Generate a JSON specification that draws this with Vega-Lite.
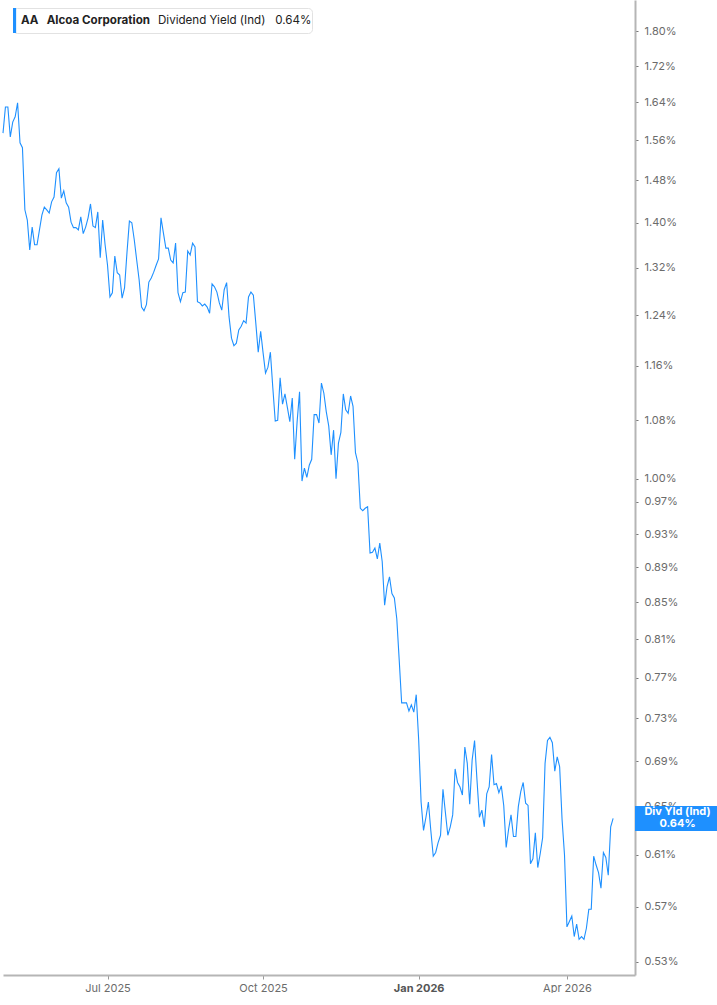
{
"$schema": "https://vega.github.io/schema/vega-lite/v6.json",
"width": 632,
"height": 975,
"padding": 0,
"background": "white",
"config": {"view": {"stroke": null}, "font": "Inter", "axis": {"grid": false}},
"datasets": {
"yield": [
{"d":"2025-04-29","v":1.575},{"d":"2025-04-30","v":1.630},
{"d":"2025-05-01","v":1.630},{"d":"2025-05-02","v":1.567},{"d":"2025-05-05","v":1.598},{"d":"2025-05-06","v":1.609},{"d":"2025-05-07","v":1.639},{"d":"2025-05-08","v":1.555},{"d":"2025-05-09","v":1.545},{"d":"2025-05-12","v":1.424},{"d":"2025-05-13","v":1.405},{"d":"2025-05-14","v":1.351},{"d":"2025-05-15","v":1.392},{"d":"2025-05-16","v":1.360},{"d":"2025-05-19","v":1.360},{"d":"2025-05-20","v":1.387},{"d":"2025-05-21","v":1.414},{"d":"2025-05-22","v":1.429},{"d":"2025-05-23","v":1.424},{"d":"2025-05-27","v":1.418},{"d":"2025-05-28","v":1.439},{"d":"2025-05-29","v":1.448},{"d":"2025-05-30","v":1.495},
{"d":"2025-06-02","v":1.503},{"d":"2025-06-03","v":1.446},{"d":"2025-06-04","v":1.460},{"d":"2025-06-05","v":1.437},{"d":"2025-06-06","v":1.429},{"d":"2025-06-09","v":1.401},{"d":"2025-06-10","v":1.391},{"d":"2025-06-11","v":1.391},{"d":"2025-06-12","v":1.387},{"d":"2025-06-13","v":1.411},{"d":"2025-06-16","v":1.380},{"d":"2025-06-17","v":1.392},{"d":"2025-06-18","v":1.409},{"d":"2025-06-20","v":1.435},{"d":"2025-06-23","v":1.394},{"d":"2025-06-24","v":1.391},{"d":"2025-06-25","v":1.420},{"d":"2025-06-26","v":1.337},{"d":"2025-06-27","v":1.405},{"d":"2025-06-30","v":1.360},
{"d":"2025-07-01","v":1.324},{"d":"2025-07-02","v":1.270},{"d":"2025-07-03","v":1.277},{"d":"2025-07-07","v":1.340},{"d":"2025-07-08","v":1.311},{"d":"2025-07-09","v":1.307},{"d":"2025-07-10","v":1.268},{"d":"2025-07-11","v":1.285},{"d":"2025-07-14","v":1.346},{"d":"2025-07-15","v":1.403},{"d":"2025-07-16","v":1.400},{"d":"2025-07-17","v":1.369},{"d":"2025-07-18","v":1.333},{"d":"2025-07-21","v":1.299},{"d":"2025-07-22","v":1.253},{"d":"2025-07-23","v":1.247},{"d":"2025-07-24","v":1.257},{"d":"2025-07-25","v":1.295},{"d":"2025-07-28","v":1.302},{"d":"2025-07-29","v":1.312},{"d":"2025-07-30","v":1.324},{"d":"2025-07-31","v":1.335},
{"d":"2025-08-01","v":1.409},{"d":"2025-08-04","v":1.381},{"d":"2025-08-05","v":1.354},{"d":"2025-08-06","v":1.354},{"d":"2025-08-07","v":1.333},{"d":"2025-08-08","v":1.328},{"d":"2025-08-11","v":1.363},{"d":"2025-08-12","v":1.277},{"d":"2025-08-13","v":1.262},{"d":"2025-08-14","v":1.277},{"d":"2025-08-15","v":1.278},{"d":"2025-08-18","v":1.349},{"d":"2025-08-19","v":1.342},{"d":"2025-08-20","v":1.363},{"d":"2025-08-21","v":1.356},{"d":"2025-08-22","v":1.262},{"d":"2025-08-25","v":1.260},{"d":"2025-08-26","v":1.255},{"d":"2025-08-27","v":1.258},{"d":"2025-08-28","v":1.253},{"d":"2025-08-29","v":1.243},
{"d":"2025-09-02","v":1.292},{"d":"2025-09-03","v":1.287},{"d":"2025-09-04","v":1.278},{"d":"2025-09-05","v":1.260},{"d":"2025-09-08","v":1.248},{"d":"2025-09-09","v":1.282},{"d":"2025-09-10","v":1.294},{"d":"2025-09-11","v":1.237},{"d":"2025-09-12","v":1.203},{"d":"2025-09-15","v":1.191},{"d":"2025-09-16","v":1.195},{"d":"2025-09-17","v":1.216},{"d":"2025-09-18","v":1.222},{"d":"2025-09-19","v":1.231},{"d":"2025-09-22","v":1.227},{"d":"2025-09-23","v":1.270},{"d":"2025-09-24","v":1.278},{"d":"2025-09-25","v":1.273},{"d":"2025-09-26","v":1.227},{"d":"2025-09-29","v":1.181},{"d":"2025-09-30","v":1.214},
{"d":"2025-10-01","v":1.180},{"d":"2025-10-02","v":1.149},{"d":"2025-10-03","v":1.158},{"d":"2025-10-06","v":1.181},{"d":"2025-10-07","v":1.127},{"d":"2025-10-08","v":1.079},{"d":"2025-10-09","v":1.080},{"d":"2025-10-10","v":1.142},{"d":"2025-10-13","v":1.103},{"d":"2025-10-14","v":1.118},{"d":"2025-10-15","v":1.098},{"d":"2025-10-16","v":1.078},{"d":"2025-10-17","v":1.112},{"d":"2025-10-20","v":1.026},{"d":"2025-10-21","v":1.078},{"d":"2025-10-22","v":1.121},{"d":"2025-10-23","v":0.997},{"d":"2025-10-24","v":1.014},{"d":"2025-10-27","v":1.002},{"d":"2025-10-28","v":1.018},{"d":"2025-10-29","v":1.026},{"d":"2025-10-30","v":1.088},{"d":"2025-10-31","v":1.088},
{"d":"2025-11-03","v":1.076},{"d":"2025-11-04","v":1.134},{"d":"2025-11-05","v":1.119},{"d":"2025-11-06","v":1.092},{"d":"2025-11-07","v":1.072},{"d":"2025-11-10","v":1.032},{"d":"2025-11-11","v":1.066},{"d":"2025-11-12","v":1.000},{"d":"2025-11-13","v":1.048},{"d":"2025-11-14","v":1.063},{"d":"2025-11-17","v":1.118},{"d":"2025-11-18","v":1.095},{"d":"2025-11-19","v":1.090},{"d":"2025-11-20","v":1.115},{"d":"2025-11-21","v":1.100},{"d":"2025-11-24","v":1.035},{"d":"2025-11-25","v":1.021},{"d":"2025-11-26","v":0.962},{"d":"2025-11-28","v":0.959},
{"d":"2025-12-01","v":0.962},{"d":"2025-12-02","v":0.964},{"d":"2025-12-03","v":0.907},{"d":"2025-12-04","v":0.908},{"d":"2025-12-05","v":0.913},{"d":"2025-12-08","v":0.900},{"d":"2025-12-09","v":0.919},{"d":"2025-12-10","v":0.897},{"d":"2025-12-11","v":0.847},{"d":"2025-12-12","v":0.868},{"d":"2025-12-15","v":0.879},{"d":"2025-12-16","v":0.860},{"d":"2025-12-17","v":0.855},{"d":"2025-12-18","v":0.832},{"d":"2025-12-19","v":0.788},{"d":"2025-12-22","v":0.745},{"d":"2025-12-23","v":0.745},{"d":"2025-12-24","v":0.745},{"d":"2025-12-26","v":0.737},{"d":"2025-12-29","v":0.743},{"d":"2025-12-30","v":0.736},{"d":"2025-12-31","v":0.753},
{"d":"2026-01-02","v":0.710},{"d":"2026-01-05","v":0.654},{"d":"2026-01-06","v":0.630},{"d":"2026-01-07","v":0.641},{"d":"2026-01-08","v":0.654},{"d":"2026-01-09","v":0.630},{"d":"2026-01-12","v":0.609},{"d":"2026-01-13","v":0.612},{"d":"2026-01-14","v":0.620},{"d":"2026-01-15","v":0.626},{"d":"2026-01-16","v":0.665},{"d":"2026-01-20","v":0.645},{"d":"2026-01-21","v":0.626},{"d":"2026-01-22","v":0.633},{"d":"2026-01-23","v":0.643},{"d":"2026-01-26","v":0.683},{"d":"2026-01-27","v":0.671},{"d":"2026-01-28","v":0.667},{"d":"2026-01-29","v":0.660},{"d":"2026-01-30","v":0.703},
{"d":"2026-02-02","v":0.688},{"d":"2026-02-03","v":0.652},{"d":"2026-02-04","v":0.691},{"d":"2026-02-05","v":0.709},{"d":"2026-02-06","v":0.673},{"d":"2026-02-09","v":0.641},{"d":"2026-02-10","v":0.647},{"d":"2026-02-11","v":0.633},{"d":"2026-02-12","v":0.661},{"d":"2026-02-13","v":0.667},{"d":"2026-02-17","v":0.696},{"d":"2026-02-18","v":0.669},{"d":"2026-02-19","v":0.670},{"d":"2026-02-20","v":0.662},{"d":"2026-02-23","v":0.668},{"d":"2026-02-24","v":0.651},{"d":"2026-02-25","v":0.616},{"d":"2026-02-26","v":0.631},{"d":"2026-02-27","v":0.643},
{"d":"2026-03-02","v":0.625},{"d":"2026-03-03","v":0.625},{"d":"2026-03-04","v":0.650},{"d":"2026-03-05","v":0.663},{"d":"2026-03-06","v":0.671},{"d":"2026-03-09","v":0.653},{"d":"2026-03-10","v":0.651},{"d":"2026-03-11","v":0.603},{"d":"2026-03-12","v":0.607},{"d":"2026-03-13","v":0.628},{"d":"2026-03-16","v":0.600},{"d":"2026-03-17","v":0.611},{"d":"2026-03-18","v":0.624},{"d":"2026-03-19","v":0.688},{"d":"2026-03-20","v":0.709},{"d":"2026-03-23","v":0.712},{"d":"2026-03-24","v":0.707},{"d":"2026-03-25","v":0.681},{"d":"2026-03-26","v":0.694},{"d":"2026-03-27","v":0.685},{"d":"2026-03-30","v":0.639},{"d":"2026-03-31","v":0.610},
{"d":"2026-04-01","v":0.555},{"d":"2026-04-02","v":0.559},{"d":"2026-04-06","v":0.563},{"d":"2026-04-07","v":0.548},{"d":"2026-04-08","v":0.557},{"d":"2026-04-09","v":0.546},{"d":"2026-04-10","v":0.548},{"d":"2026-04-13","v":0.546},{"d":"2026-04-14","v":0.554},{"d":"2026-04-15","v":0.568},{"d":"2026-04-16","v":0.568},{"d":"2026-04-17","v":0.609},{"d":"2026-04-20","v":0.602},{"d":"2026-04-21","v":0.596},{"d":"2026-04-22","v":0.584},{"d":"2026-04-23","v":0.612},{"d":"2026-04-24","v":0.608},{"d":"2026-04-27","v":0.594},{"d":"2026-04-28","v":0.633},{"d":"2026-04-29","v":0.640}
],
"last": [{"d":"2026-04-29","v":0.64,"label":"Div Yld (Ind)\n0.64%"}]
},
"layer": [
{
"data": {"name": "yield"},
"mark": {"type": "line", "strokeWidth": 1.1},
"encoding": {
"x": {"field": "d", "type": "ordinal", "sort": "ascending",
"scale": {"type": "point", "padding": 0, "domain": {"unionWith": ["2026-04-30","2026-05-01","2026-05-04","2026-05-05","2026-05-06","2026-05-07","2026-05-08","2026-05-11","2026-05-12"]}},
"axis": {"title": null, "values": ["2025-07-01","2025-10-01","2026-01-02","2026-04-01"],
"labelExpr": "utcFormat(toDate(datum.value), '%b %Y')", "labelAngle": 0,
"domainColor": "#b5b5b5", "domainWidth": 2, "tickColor": "#999999", "tickSize": 4, "tickWidth": 1,
"labelColor": {"condition": {"test": "datum.value == '2026-01-02'", "value": "#555555"}, "value": "#6b6b6b"},
"labelFontWeight": {"condition": {"test": "datum.value == '2026-01-02'", "value": "bold"}, "value": "normal"},
"labelFontSize": 11, "labelPadding": 3, "labelFont": "Inter"}},
"y": {"field": "v", "type": "quantitative",
"scale": {"type": "log", "domain": [0.521, 1.876], "nice": false, "zero": false},
"axis": {"orient": "right", "title": null,
"values": [0.53,0.57,0.61,0.65,0.69,0.73,0.77,0.81,0.85,0.89,0.93,0.97,1.0,1.08,1.16,1.24,1.32,1.40,1.48,1.56,1.64,1.72,1.80],
"labelExpr": "format(datum.value, '.2f') + '%'",
"domainColor": "#b5b5b5", "domainWidth": 2, "tickColor": "#777777", "tickSize": 3, "tickWidth": 1,
"labelColor": "#6b6b6b", "labelFontSize": 11, "labelPadding": 6, "labelFont": "Inter",
"labelOverlap": false, "labelFlush": false}},
"color": {"datum": "AA\u00a0\u00a0 Alcoa Corporation",
"scale": {"range": ["#1e90ff"]},
"legend": {"title": "Dividend Yield (Ind)\u00a0\u00a0 0.64%", "titleOrient": "right", "titleFont": "Inter", "titleFontSize": 11.6, "titleFontWeight": "normal", "titleColor": "#222222", "titlePadding": 8, "titleBaseline": "middle", "titleAnchor": "middle", "titleLimit": 400,
"orient": "none", "legendX": 10, "legendY": 8, "padding": 0,
"strokeColor": "#e2e2e2", "fillColor": "white", "cornerRadius": 4,
"symbolType": "M-1,-1H-0.75V1H-1Z", "symbolSize": 625, "symbolFillColor": "#1e90ff", "symbolStrokeColor": "#1e90ff", "symbolStrokeWidth": 0,
"labelOffset": -17, "labelFont": "Inter", "labelFontSize": 11.6, "labelFontWeight": "bold", "labelColor": "#222222", "labelLimit": 600,
"encode": {"symbols": {"update": {"fill": {"value": "#1e90ff"}, "stroke": {"value": "transparent"}, "opacity": {"value": 1}}}}}}
}
},
{
"data": {"name": "last"},
"mark": {"type": "point", "shape": "M0,-1H6.8V1H0Z", "size": 625, "filled": true, "opacity": 1, "color": "#1e90ff", "strokeWidth": 0},
"encoding": {"x": {"value": "width"}, "y": {"field": "v", "type": "quantitative"}}
},
{
"data": {"name": "last"},
"mark": {"type": "text", "dx": 42.5, "dy": -6, "align": "center", "baseline": "middle", "lineBreak": "\n", "lineHeight": 12, "fontSize": 11, "fontWeight": "bold", "color": "white", "font": "Inter"},
"encoding": {"x": {"value": "width"}, "y": {"field": "v", "type": "quantitative"}, "text": {"field": "label"}}
}
]
}
